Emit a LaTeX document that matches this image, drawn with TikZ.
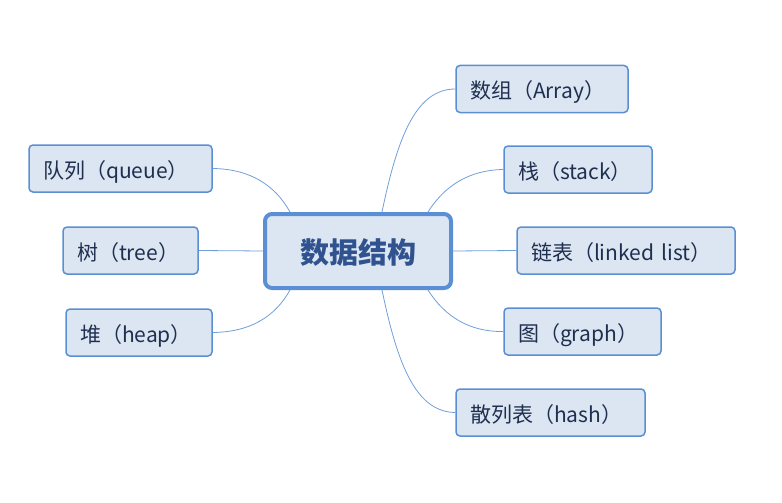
\documentclass[tikz,border=0pt]{standalone}
\usepackage{fontspec}
\setmainfont{Noto Sans CJK SC}
\definecolor{boxfill}{HTML}{DCE6F2}
\definecolor{boxline}{HTML}{5A8FD3}
\definecolor{linkline}{HTML}{6F9FDA}
\definecolor{leaftext}{HTML}{1F2F4F}
\definecolor{roottext}{HTML}{30528F}
\begin{document}
\begin{tikzpicture}[x=1pt,y=-1pt,
  leaf/.style={draw=boxline,line width=1.5pt,fill=boxfill,rounded corners=4pt,
    minimum height=47pt,inner ysep=0pt,inner xsep=14pt,text width=#1-28pt,align=left,
    text height=22pt,text depth=2pt,
    text=leaftext,font=\fontsize{21}{24}\selectfont},
  root/.style={draw=boxline,line width=4pt,fill=boxfill,rounded corners=7pt,
    minimum width=186pt,minimum height=74pt,inner sep=0pt,text=roottext,
    text height=28pt,text depth=4pt,
    font=\fontsize{29}{32}\selectfont\bfseries},
  link/.style={draw=linkline,line width=0.8pt}]
\useasboundingbox (0,0) rectangle (782,503);
\node[root] (c) at (358,251) {数据结构};
\node[leaf=172pt] (arr) at (542,89) {数组（Array）};
\node[leaf=148pt] (stk) at (578,169.5) {栈（stack）};
\node[leaf=218pt] (lnk) at (626,250.5) {链表（linked list）};
\node[leaf=157pt] (gra) at (582.5,331.5) {图（graph）};
\node[leaf=189pt] (hsh) at (550.5,412.5) {散列表（hash）};
\node[leaf=183pt] (que) at (120.5,168.5) {队列（queue）};
\node[leaf=135pt] (tre) at (130.5,250.5) {树（tree）};
\node[leaf=146pt] (hep) at (139,332.5) {堆（heap）};
\coordinate (cA) at (382,212);
\coordinate (cS) at (428,212);
\coordinate (cG) at (428,290);
\coordinate (cH) at (382,290);
\coordinate (cQ) at (290,212);
\coordinate (cP) at (290,290);
\draw[link] (cA) .. controls (397,140) and (415,89) .. (arr.west);
\draw[link] (cS) .. controls (445,185) and (470,170) .. (stk.west);
\draw[link] (c.east) -- (lnk.west);
\draw[link] (cG) .. controls (445,317) and (470,332) .. (gra.west);
\draw[link] (cH) .. controls (397,362) and (415,412) .. (hsh.west);
\draw[link] (cQ) .. controls (275,185) and (250,169) .. (que.east);
\draw[link] (c.west) -- (tre.east);
\draw[link] (cP) .. controls (275,317) and (250,332) .. (hep.east);
\end{tikzpicture}
\end{document}
